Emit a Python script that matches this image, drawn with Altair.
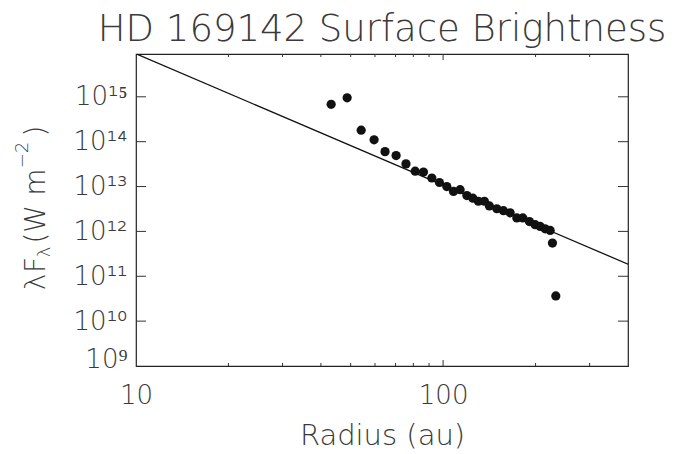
import altair as alt
import pandas as pd

# ---- data ----
radius = [43.2, 48.7, 54.1, 59.6, 64.7, 70.3, 75.7, 81.1, 86.3, 91.9, 97.3,
          102.8, 108.1, 113.6, 119.5, 125.0, 130.3, 136.3, 141.5, 149.6, 157.2,
          165.3, 173.8, 181.8, 191.0, 199.4, 207.0, 214.9, 223.2, 227.0, 232.8]
flux = [6.8e14, 9.5e14, 1.8e14, 1.1e14, 6.0e13, 4.9e13, 3.2e13, 2.2e13, 2.1e13,
        1.55e13, 1.23e13, 1.0e13, 7.8e12, 8.5e12, 6.3e12, 5.5e12, 4.7e12, 4.7e12,
        3.7e12, 3.2e12, 2.9e12, 2.6e12, 2.0e12, 2.0e12, 1.66e12, 1.41e12, 1.29e12,
        1.14e12, 1.05e12, 5.5e11, 3.65e10]
fit_radius = [10, 400]
fit_flux = [9.1e15, 1.86e11]

x_tick_values = [10, 100]
x_tick_labels = ["10", "100"]
x_major_ticks = [100]
x_minor_ticks = [20, 30, 40, 50, 60, 70, 80, 90, 200, 300]
y_tick_values = [1e9, 1e10, 1e11, 1e12, 1e13, 1e14, 1e15]
y_tick_labels = ["10⁹", "10¹⁰", "10¹¹", "10¹²", "10¹³", "10¹⁴", "10¹⁵"]
y_major_ticks = [1e10, 1e11, 1e12, 1e13, 1e14, 1e15]

title_text = "HD 169142 Surface Brightness"
x_title = "Radius (au)"

# ---- styling ----
W, H = 492, 312
FONT = "DejaVu Sans"
TXT = "#3a3a3a"
INK = "#111111"

xs = alt.Scale(type="log", domain=[10, 400], nice=False)
ys = alt.Scale(type="log", domain=[1e9, 9e15], nice=False)

y_label_expr = "[" + ",".join(f"'{s}'" for s in y_tick_labels) + "][round(log(datum.value)/LN10)-9]"
x_label_expr = "[" + ",".join(f"'{s}'" for s in x_tick_labels) + "][round(log(datum.value)/LN10)-1]"

pts_df = pd.DataFrame({"r": radius, "f": flux})
fit_df = pd.DataFrame({"r": fit_radius, "f": fit_flux})

x_axis = alt.Axis(
    values=x_tick_values, labelExpr=x_label_expr, ticks=False, tickSize=0,
    domain=False, grid=False, labelFontSize=26, labelPadding=16, labelFont=FONT,
    labelFontWeight=200, labelColor=TXT, labelFlush=False, title=x_title,
    titleFontSize=29, titleFont=FONT, titleFontWeight=200, titleColor=TXT,
    titlePadding=13)
y_axis = alt.Axis(
    values=y_tick_values, labelExpr=y_label_expr, ticks=False, tickSize=0,
    domain=False, grid=False, labelFontSize=26, labelPadding=9, labelFont=FONT,
    labelFontWeight=200, labelColor=TXT, labelFlush=True, labelFlushOffset=6,
    title=None)

points = alt.Chart(pts_df).mark_circle(size=85, color=INK, opacity=1).encode(
    x=alt.X("r:Q", scale=xs, axis=x_axis),
    y=alt.Y("f:Q", scale=ys, axis=y_axis),
)

fit = alt.Chart(fit_df).mark_line(color=INK, strokeWidth=1.3, clip=True).encode(
    x=alt.X("r:Q", scale=xs, axis=x_axis),
    y=alt.Y("f:Q", scale=ys, axis=y_axis),
)


def xticks(vals, y0, y1):
    return alt.Chart(pd.DataFrame({"r": vals})).mark_rule(color="#333", strokeWidth=1).encode(
        x=alt.X("r:Q", scale=xs, axis=x_axis), y=alt.value(y0), y2=alt.value(y1))


def yticks(vals, x0, x1):
    return alt.Chart(pd.DataFrame({"f": vals})).mark_rule(color="#333", strokeWidth=1).encode(
        y=alt.Y("f:Q", scale=ys, axis=y_axis), x=alt.value(x0), x2=alt.value(x1))


tick_layers = [
    xticks(x_major_ticks, H, H - 6), xticks(x_minor_ticks, H, H - 3),
    xticks(x_major_ticks, 0, 6), xticks(x_minor_ticks, 0, 3),
    yticks(y_major_ticks, 0, 10), yticks(y_major_ticks, W, W - 10),
]

dummy = pd.DataFrame({"k": [0]})


def ytitle_piece(txt, x, y, size):
    return alt.Chart(dummy).mark_text(
        text=txt, angle=270, align="center", baseline="alphabetic", font=FONT,
        fontWeight=200, fontSize=size, color=TXT).encode(x=alt.value(x), y=alt.value(y))


# y-axis title pieces (positions relative to the plot's top-left corner)
ytitle = [
    ytitle_piece("λ", -91, 228, 28),
    ytitle_piece("F", -91, 211, 28),
    ytitle_piece("λ", -86, 198, 18),
    ytitle_piece("(", -91, 184, 28),
    ytitle_piece("W", -91, 165, 28),
    ytitle_piece("m", -91, 128, 28),
    ytitle_piece("−2", -108, 101, 18),
    ytitle_piece(")", -91, 77, 28),
]

chart = alt.layer(fit, points, *tick_layers, *ytitle).properties(
    width=W, height=H,
    title=alt.Title(title_text, fontSize=37, font=FONT, fontWeight=200, color=TXT,
                    anchor="middle", offset=5),
    padding={"left": 136, "top": 54, "right": 46, "bottom": 88},
    autosize=alt.AutoSizeParams(type="none"),
).configure_view(stroke="#222", strokeWidth=1.2)

chart.save("out.html", embed_options={"renderer": "svg", "actions": False})
